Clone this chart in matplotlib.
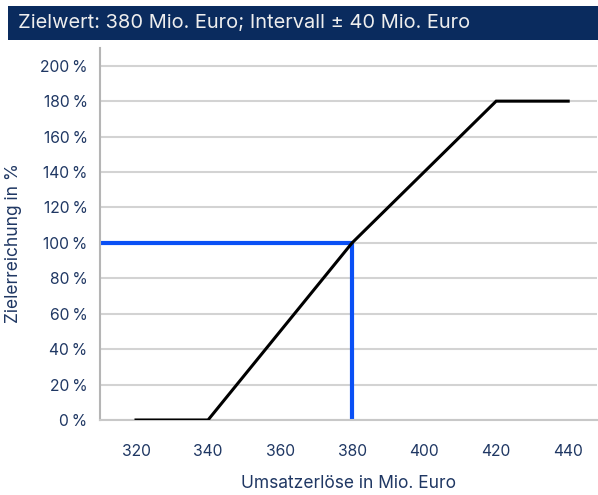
import matplotlib
matplotlib.use("Agg")
import matplotlib.pyplot as plt
from matplotlib.patches import Rectangle

# Data
umsatz = [320, 340, 380, 420, 440]
zielerreichung = [0, 0, 100, 180, 180]
ziel_x = 380
ziel_y = 100
x_ticks = [320, 340, 360, 380, 400, 420, 440]
y_ticks = [0, 20, 40, 60, 80, 100, 120, 140, 160, 180, 200]
y_tick_labels = [f"{v}\u2009%" for v in y_ticks]
title_text = "Zielwert: 380 Mio. Euro; Intervall ± 40 Mio. Euro"
xlabel = "Umsatzerlöse in Mio. Euro"
ylabel = "Zielerreichung in %"

plt.rcParams['font.family'] = ['Inter', 'DejaVu Sans']

W, H = 598, 495
fig = plt.figure(figsize=(W / 100, H / 100), dpi=100)

# Banner
fig.patches.append(Rectangle((8 / W, 1 - 40 / H), (W - 8) / W, 34 / H,
                             transform=fig.transFigure, facecolor="#0a2b5e",
                             edgecolor="none", zorder=0))
fig.text(18 / W, 1 - 23 / H, title_text, color="#eeeeee", fontsize=14.4,
         va="center", ha="left")

ax = fig.add_axes([100 / W, (H - 420) / H, 497 / W, 372 / H])
ax.set_xlim(310, 448)
ax.set_ylim(0, 210)

navy = "#1f3763"
ax.set_xticks(x_ticks)
ax.set_yticks(y_ticks)
ax.set_yticklabels(y_tick_labels)
ax.tick_params(axis="both", length=0, labelsize=11.3, labelcolor=navy)
ax.tick_params(axis="x", pad=17)
ax.tick_params(axis="y", pad=9)

ax.grid(axis="y", color="#d3d3d3", linewidth=1.5, zorder=0)
ax.set_axisbelow(True)
for s in ["top", "right"]:
    ax.spines[s].set_visible(False)
ax.spines["left"].set_color("#b5b5b5")
ax.spines["left"].set_linewidth(1.5)
ax.spines["bottom"].set_color("#c8c8c8")
ax.spines["bottom"].set_linewidth(1.5)

ax.plot(umsatz, zielerreichung, color="black", linewidth=2.2, zorder=3,
        solid_joinstyle="miter")
ax.plot([310, ziel_x], [ziel_y, ziel_y], color="#0a50f5", linewidth=3,
        zorder=2, solid_capstyle="butt")
ax.plot([ziel_x, ziel_x], [0, ziel_y], color="#0a50f5", linewidth=3,
        zorder=2, solid_capstyle="butt")

ax.set_xlabel(xlabel, fontsize=12.5, color=navy, labelpad=12)
ax.set_ylabel(ylabel, fontsize=12.5, color=navy, va="center")
ax.yaxis.set_label_coords(-86 / 497, 0.476)

fig.savefig("out.png", dpi=100)
